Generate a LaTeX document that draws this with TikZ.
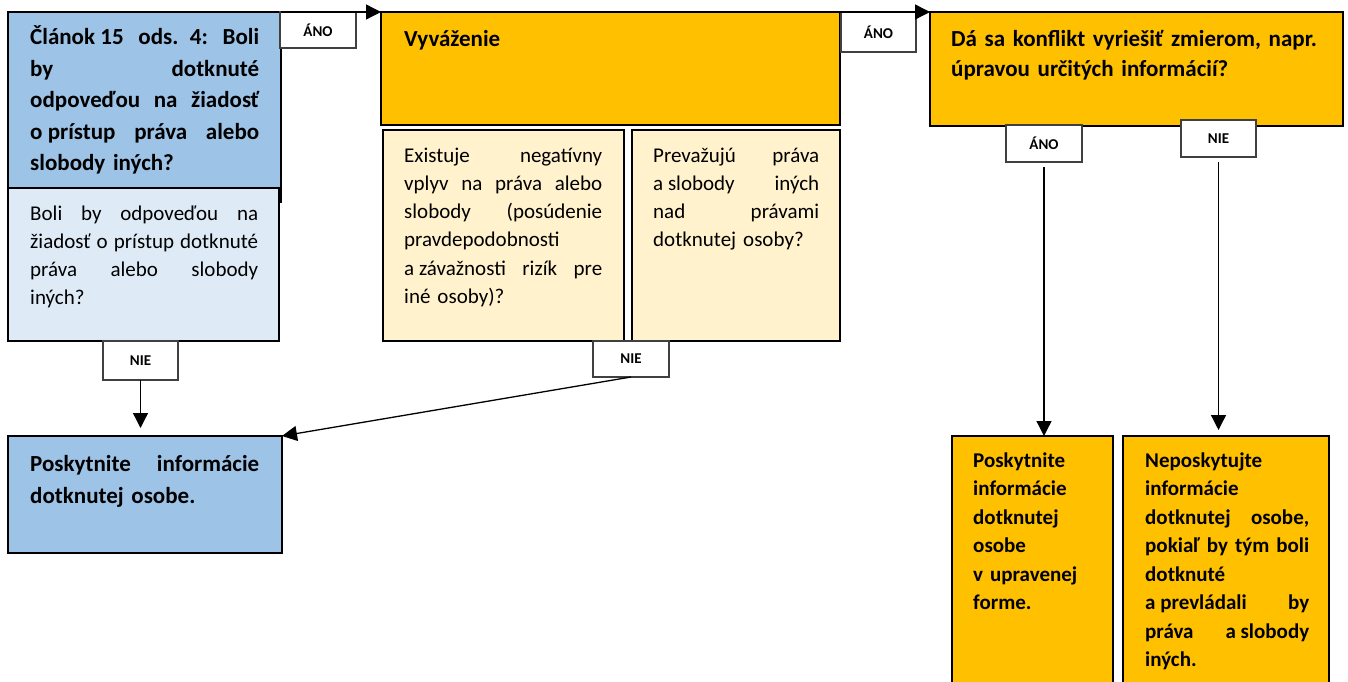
\documentclass[tikz,border=0pt]{standalone}
\usepackage{fontspec}
\setmainfont{Carlito}
\usepackage{tikz}
\usepackage{xcolor}
\usetikzlibrary{positioning, arrows.meta, calc}

\definecolor{midblue}{HTML}{9DC3E6}
\definecolor{paleblue}{HTML}{DEEBF7}
\definecolor{gold}{HTML}{FFC000}
\definecolor{cream}{HTML}{FFF2CC}
\newcommand{\fullline}[1]{\makebox[\hsize][s]{\spaceskip=\fontdimen2\font plus 1fil\relax #1}} % one justified line

\begin{document}
\begin{tikzpicture}[x=1pt, y=-1pt,
  box/.style={draw, line width=1.6pt, anchor=north west, inner sep=0pt, outer sep=0pt},
  answer/.style={draw=black!75, line width=1.1pt, fill=white, anchor=north west, inner sep=0pt, outer sep=0pt, minimum width=76pt, font=\fontsize{15}{18}\selectfont\bfseries},
  head/.style={anchor=base west, inner sep=0pt, align=left, font=\fontsize{23}{31.5}\selectfont\bfseries},
  body/.style={anchor=base west, inner sep=0pt, align=left, font=\fontsize{21}{28.3}\selectfont},
  arr/.style={line width=1.3pt, -{Triangle[length=15pt,width=15pt]}}] % styles
   \useasboundingbox (0,0) rectangle (1348,682);
   \clip (0,0) rectangle (1348,682);
   % left column
   \node[box, fill=midblue, minimum width=273pt, minimum height=190pt] (clanok) at (8,12) {};
   \node[box, fill=paleblue, minimum width=271pt, minimum height=153pt] (boli) at (8,188) {};
   \node[box, fill=midblue, minimum width=274pt, minimum height=117pt] (poskyt) at (8,436) {};
   \node[head, text width=229pt] (clanokTxt) at ($(clanok.north west)+(22,33)$)
     {\fullline{\mbox{Článok 15} \mbox{ods. 4:} Boli}\\ \fullline{by dotknuté}\\ \fullline{odpoveďou na žiadosť}\\ \fullline{\mbox{o prístup} práva alebo}\\ slobody iných?};
   \node[body, text width=228pt, font=\fontsize{21}{28}\selectfont] (boliTxt) at ($(boli.north west)+(22,32)$)
     {\fullline{Boli by odpoveďou na}\\ \fullline{žiadosť o prístup dotknuté}\\ \fullline{práva alebo slobody}\\ iných?};
   \node[head, text width=229pt, font=\fontsize{23}{32}\selectfont\bfseries] (poskytTxt) at ($(poskyt.north west)+(22,35)$)
     {\fullline{Poskytnite informácie}\\ dotknutej osobe.};
   % balancing
   \node[box, line width=2.6pt, fill=gold, minimum width=459pt, minimum height=113pt] (vyvaz) at (381,12) {};
   \node[box, fill=cream, minimum width=241pt, minimum height=211pt] (existuje) at (383,130) {};
   \node[box, fill=cream, minimum width=208pt, minimum height=211pt] (prevaz) at (632,130) {};
   \node[head, text width=400pt] (vyvazTxt) at ($(vyvaz.north west)+(23,35)$) {Vyváženie};
   \node[body, text width=198pt] (existujeTxt) at ($(existuje.north west)+(21,32)$)
     {\fullline{Existuje negatívny}\\ \fullline{vplyv na práva alebo}\\ \fullline{slobody (posúdenie}\\ pravdepodobnosti\\ \fullline{\mbox{a závažnosti} rizík pre}\\ iné osoby)?};
   \node[body, text width=166pt] (prevazTxt) at ($(prevaz.north west)+(21,32)$)
     {\fullline{Prevažujú práva}\\ \fullline{\mbox{a slobody} iných}\\ \fullline{nad právami}\\ dotknutej osoby?};
   % conflict
   \node[box, line width=2.6pt, fill=gold, minimum width=413pt, minimum height=114pt] (konflikt) at (930,12) {};
   \node[box, fill=gold, minimum width=161pt, minimum height=270pt] (upravene) at (952,436) {};
   \node[box, fill=gold, minimum width=206pt, minimum height=270pt] (neposkyt) at (1123,436) {};
   \node[head, text width=390pt, font=\fontsize{23}{30}\selectfont\bfseries] (konfliktTxt) at ($(konflikt.north west)+(21,35)$)
     {Dá sa konflikt vyriešiť zmierom, napr.\\ úpravou určitých informácií?};
   \node[body, text width=140pt, font=\fontsize{21}{28.5}\selectfont\bfseries] (upraveneTxt) at ($(upravene.north west)+(21,31)$)
     {Poskytnite\\ informácie\\ dotknutej\\ osobe\\ v upravenej\\ forme.};
   \node[body, text width=164pt, font=\fontsize{21}{28.5}\selectfont\bfseries] (neposkytTxt) at ($(neposkyt.north west)+(22,31)$)
     {Neposkytujte\\ informácie\\ \fullline{dotknutej osobe,}\\ \fullline{pokiaľ by tým boli}\\ dotknuté\\ \fullline{\mbox{a prevládali} by}\\ \fullline{práva \mbox{a slobody}}\\ iných.};
   % answers
   \node[answer, minimum height=36pt] (ano1) at (280,12) {ÁNO};
   \node[answer, minimum height=40pt, minimum width=75pt] (ano2) at (841,12) {ÁNO};
   \node[answer, minimum height=39pt, minimum width=75pt] (nie1) at (103,341) {NIE};
   \node[answer, minimum height=36pt] (nie2) at (593,341) {NIE};
   \node[answer, minimum height=37pt] (ano3) at (1006,125) {ÁNO};
   \node[answer, minimum height=37pt, minimum width=75pt] (nie3) at (1181,120) {NIE};
   % connectors
   \draw[arr] (clanok.north east) -- (vyvaz.north west);
   \draw[arr] (vyvaz.north east) -- (konflikt.north west);
   \draw[arr, shorten >=8pt] (nie1.south) -- (nie1.south |- poskyt.north);
   \draw[arr] (nie2.south) -- (poskyt.north east);
   \draw[arr, shorten <=5pt] (ano3.south) -- (ano3.south |- upravene.north);
   \draw[arr, shorten <=5pt, shorten >=6pt] (nie3.south) -- (nie3.south |- neposkyt.north);
\end{tikzpicture}
\end{document}
